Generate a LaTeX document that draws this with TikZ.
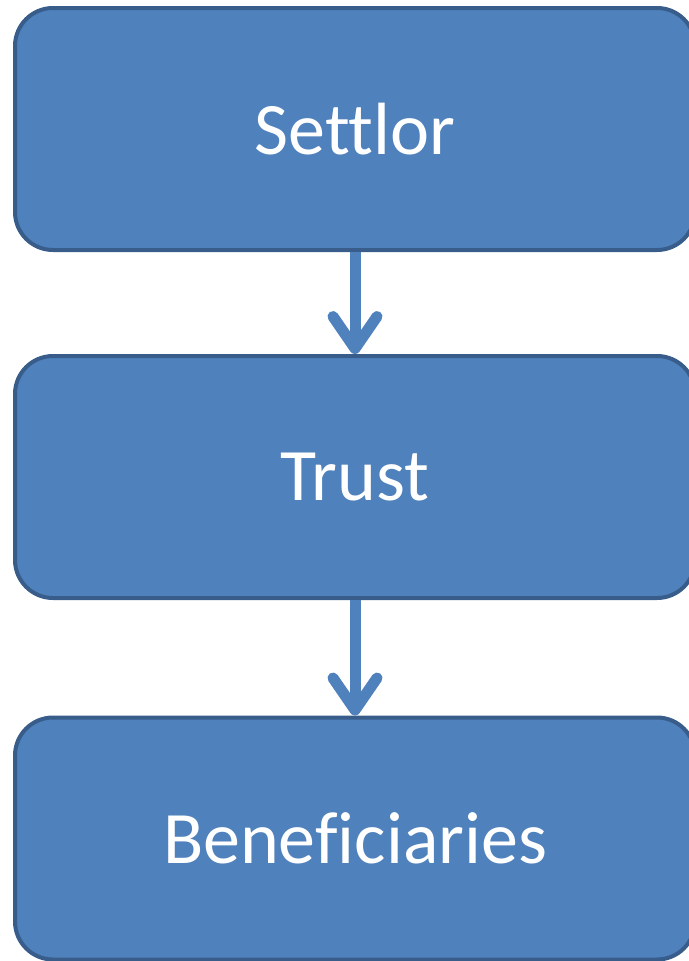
\documentclass[tikz,border=0pt]{standalone}
\usepackage{fontspec}
\setmainfont[Ligatures={NoCommon}]{Carlito}
\usetikzlibrary{arrows.meta}
\definecolor{boxfill}{HTML}{4F81BD}
\definecolor{boxline}{HTML}{385D8A}
\tikzset{
  flowbox/.style={draw=boxline, line width=4pt, fill=boxfill, rounded corners=38pt,
    minimum width=680pt, minimum height=242pt, inner sep=0pt, text=white,
    font=\fontsize{74pt}{88pt}\selectfont},
  flowarrow/.style={draw=boxfill, line width=11pt,
    -{Straight Barb[length=32pt, width=44pt, round]}}
}
\begin{document}
\begin{tikzpicture}[x=1pt,y=-1pt]
\useasboundingbox (0,0) rectangle (688,961);
\node[flowbox] (settlor) at (355,129) {Settlor};
\node[flowbox] (trust) at (355,477) {Trust};
\node[flowbox] (benef) at (355,838.5) {Beneficiaries};
\draw[flowarrow] (settlor.south) -- (trust.north);
\draw[flowarrow] (trust.south) -- (benef.north);
\end{tikzpicture}
\end{document}
